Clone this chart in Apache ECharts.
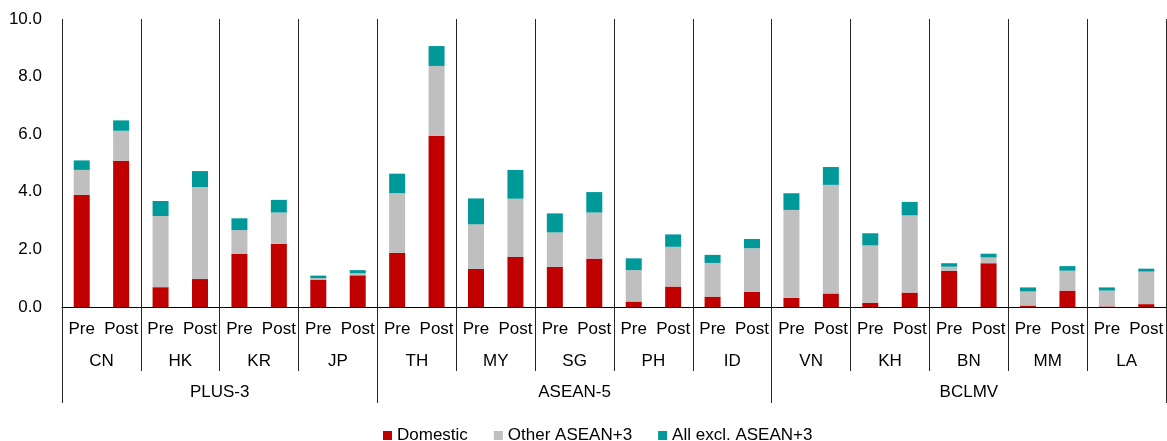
<!DOCTYPE html>
<html>
<head>
<meta charset="utf-8">
<script src="https://cdn.jsdelivr.net/npm/echarts@6/dist/echarts.min.js"></script>
<style>
html,body{margin:0;padding:0;background:#fff;}
#chart{width:1167px;height:441px;}
</style>
</head>
<body>
<div id="chart"></div>
<script>
// ---- Data ----
const countries = ['CN','HK','KR','JP','TH','MY','SG','PH','ID','VN','KH','BN','MM','LA'];
const periods = ['Pre','Post'];
const groups = ['PLUS-3','ASEAN-5','BCLMV'];
const groupSizes = [4,5,5];
const yTicks = [0,2,4,6,8,10];
// values in order CN Pre, CN Post, HK Pre, HK Post, ...
const domestic = [3.90,5.08, 0.69,0.97, 1.84,2.20, 0.95,1.10, 1.88,5.95, 1.32,1.74, 1.39,1.68, 0.19,0.71, 0.36,0.53, 0.32,0.47, 0.15,0.50, 1.25,1.52, 0.05,0.57, 0.02,0.10];
const otherAsean3 = [0.86,1.04, 2.47,3.19, 0.83,1.08, 0.05,0.07, 2.07,2.42, 1.55,2.02, 1.20,1.60, 1.09,1.38, 1.17,1.51, 3.05,3.77, 1.99,2.68, 0.15,0.20, 0.49,0.69, 0.55,1.13];
const allExcl = [0.33,0.36, 0.52,0.56, 0.41,0.44, 0.09,0.11, 0.68,0.69, 0.90,1.00, 0.66,0.71, 0.41,0.43, 0.28,0.32, 0.58,0.62, 0.42,0.47, 0.12,0.13, 0.14,0.16, 0.11,0.10];
const seriesNames = ['Domestic','Other ASEAN+3','All excl. ASEAN+3'];
const colors = ['#C00000','#BFBFBF','#009999'];

// ---- Build ----
const cats = [];
countries.forEach(() => periods.forEach(p => cats.push(p)));
const bounds = [0];
groupSizes.forEach(s => bounds.push(bounds[bounds.length-1] + s));
const groupCenters = groupSizes.map((s,i) => bounds[i] + s/2);

const FONT = 'Liberation Sans, Arial, sans-serif';
const lineColor = '#262626';

const chart = echarts.init(document.getElementById('chart'), null, {renderer:'canvas'});
const dataSets = [domestic, otherAsean3, allExcl];

chart.setOption({
  animation: false,
  textStyle: {fontFamily: FONT},
  grid: {left: 62, right: 1, top: 19, bottom: 134, containLabel: false},
  legend: {
    data: seriesNames,
    left: 378, top: 422,
    itemWidth: 9, itemHeight: 9, itemGap: 26,
    icon: 'rect',
    textStyle: {fontSize: 17, color: '#000', fontFamily: FONT}
  },
  xAxis: [
    {
      type: 'category', data: cats, position: 'bottom',
      axisLine: {show: true, lineStyle: {color: '#000', width: 1}},
      axisTick: {show: false},
      axisLabel: {fontSize: 17, color: '#000', margin: 14, interval: 0, fontFamily: FONT},
      splitLine: {show: false}
    },
    {
      type: 'category', data: countries, position: 'bottom',
      axisLine: {show: false},
      axisTick: {show: true, length: 64, lineStyle: {color: lineColor, width: 1}},
      axisLabel: {fontSize: 17, color: '#000', margin: 46, interval: 0, fontFamily: FONT},
      splitLine: {show: true, interval: 0, lineStyle: {color: lineColor, width: 1}}
    },
    {
      type: 'value', min: 0, max: countries.length, position: 'bottom',
      axisLine: {show: false},
      axisTick: {show: true, length: 96, customValues: bounds, lineStyle: {color: lineColor, width: 1}},
      axisLabel: {
        fontSize: 17, color: '#000', margin: 77, fontFamily: FONT,
        customValues: groupCenters,
        formatter: v => { const i = groupCenters.indexOf(v); return i >= 0 ? groups[i] : ''; }
      },
      splitLine: {show: false}
    }
  ],
  yAxis: {
    type: 'value', min: yTicks[0], max: yTicks[yTicks.length-1], interval: 2,
    axisLine: {show: false}, axisTick: {show: false}, splitLine: {show: false},
    axisLabel: {fontSize: 17, color: '#000', margin: 20, fontFamily: FONT, formatter: v => v.toFixed(1)}
  },
  series: seriesNames.map((n, i) => ({
    name: n, type: 'bar', stack: 'total', xAxisIndex: 0,
    barWidth: 16,
    itemStyle: {color: colors[i]},
    data: dataSets[i]
  }))
});
</script>
</body>
</html>
